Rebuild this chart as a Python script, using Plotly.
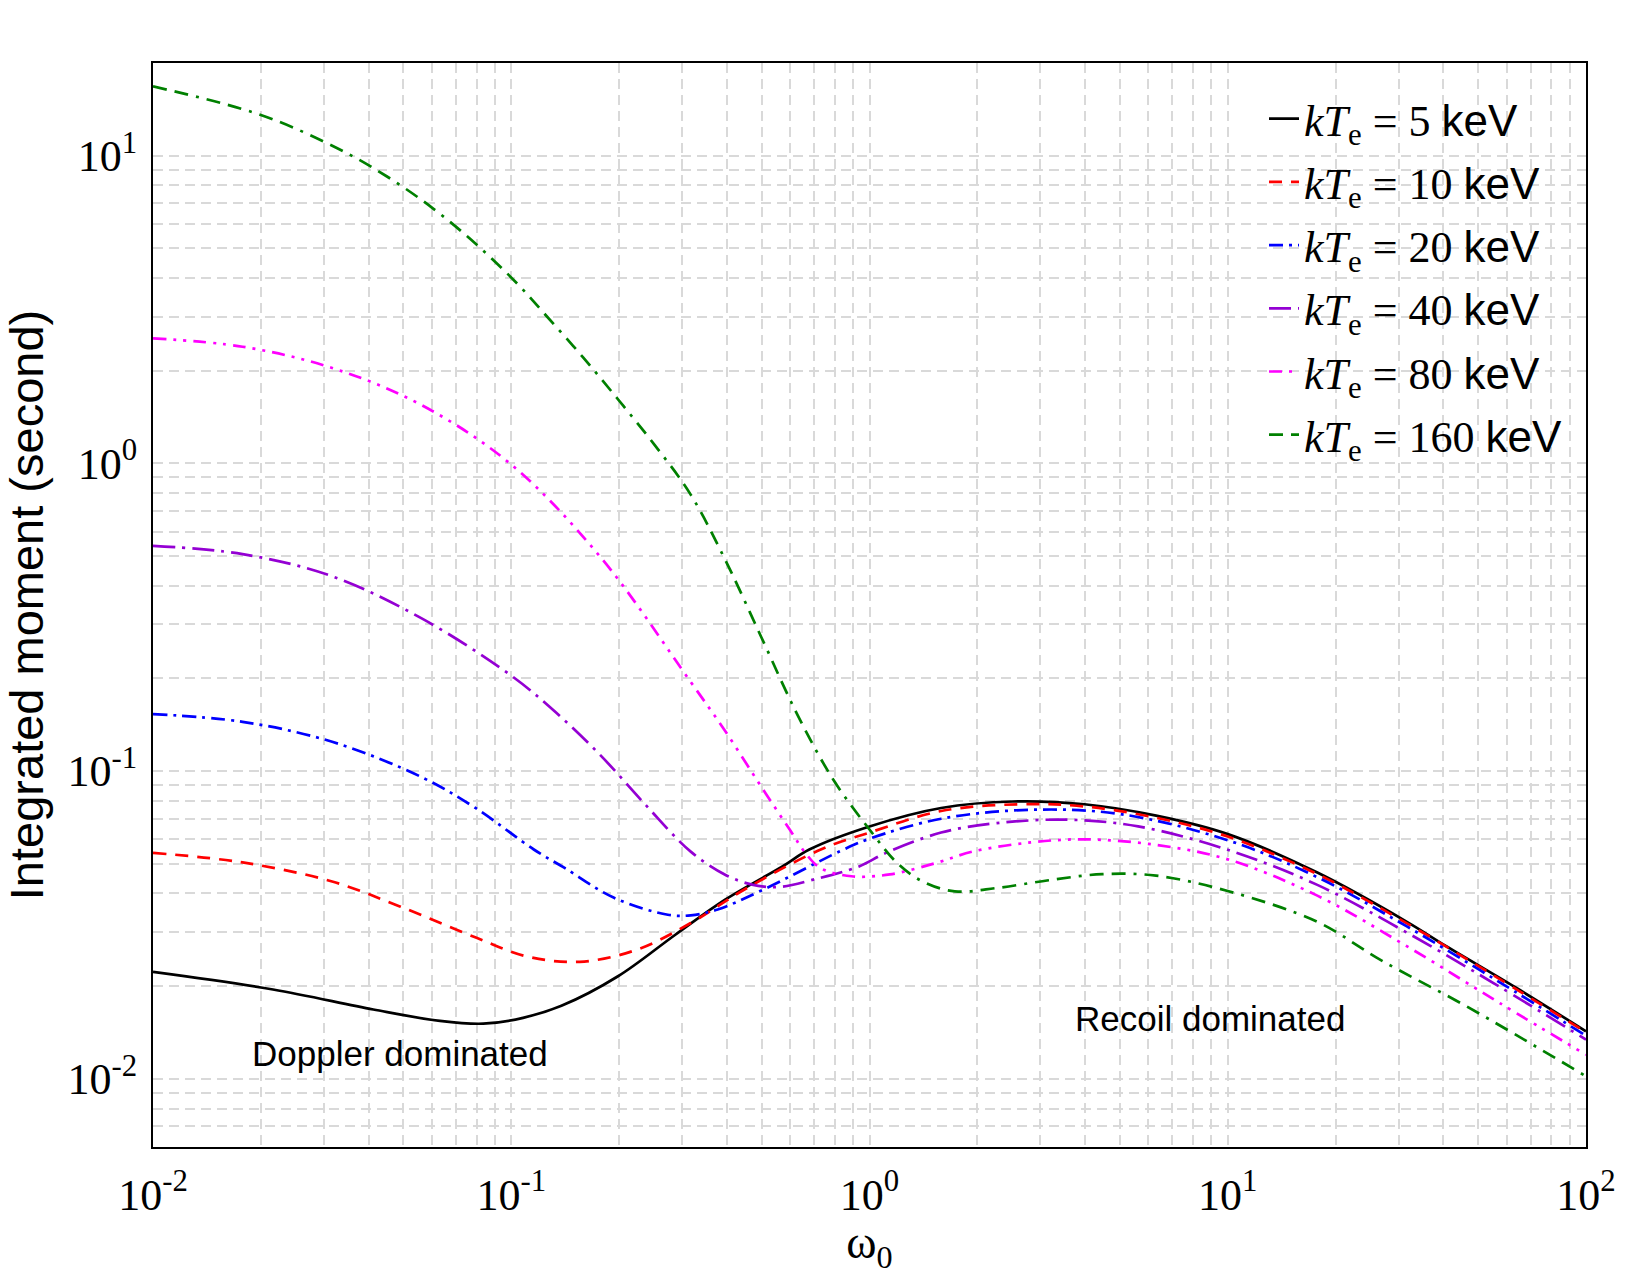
import numpy as np
import plotly.graph_objects as go

# log10(omega_0) / log10(integrated moment)
lw_5 = [-2.0, -1.665, -1.385, -1.199, -1.078, -0.967, -0.86, -0.702, -0.542, -0.403, -0.243, -0.168, 0.0, 0.2, 0.4, 0.6, 0.8, 1.0, 1.25, 1.5, 1.611, 1.806, 2.0]
lm_5 = [-1.653, -1.71, -1.775, -1.812, -1.821, -1.802, -1.763, -1.667, -1.532, -1.418, -1.31, -1.255, -1.18, -1.12, -1.099, -1.108, -1.145, -1.205, -1.33, -1.49, -1.57, -1.705, -1.846]

lw_10 = [-2.0, -1.75, -1.5, -1.311, -1.097, -0.958, -0.809, -0.648, -0.499, -0.349, -0.136, 0.0, 0.2, 0.42, 0.6, 0.8, 1.0, 1.25, 1.5, 1.75, 2.0]
lm_10 = [-1.266, -1.297, -1.359, -1.44, -1.542, -1.602, -1.62, -1.58, -1.494, -1.385, -1.255, -1.2, -1.13, -1.108, -1.115, -1.152, -1.213, -1.335, -1.495, -1.67, -1.849]

lw_20 = [-2.0, -1.75, -1.5, -1.25, -1.1, -0.937, -0.851, -0.713, -0.563, -0.499, -0.424, -0.296, -0.083, 0.0, 0.2, 0.45, 0.7, 1.0, 1.25, 1.5, 1.75, 2.0]
lm_20 = [-0.815, -0.84, -0.905, -1.02, -1.12, -1.255, -1.315, -1.412, -1.467, -1.469, -1.45, -1.385, -1.261, -1.22, -1.155, -1.126, -1.14, -1.225, -1.345, -1.505, -1.68, -1.86]

lw_40 = [-2.0, -1.75, -1.5, -1.25, -1.0, -0.875, -0.75, -0.625, -0.499, -0.403, -0.328, -0.253, -0.157, -0.029, 0.046, 0.2, 0.35, 0.55, 0.75, 1.0, 1.25, 1.5, 1.75, 2.0]
lm_40 = [-0.268, -0.295, -0.367, -0.504, -0.69, -0.81, -0.95, -1.11, -1.262, -1.337, -1.369, -1.377, -1.353, -1.31, -1.266, -1.2, -1.17, -1.158, -1.18, -1.256, -1.37, -1.525, -1.695, -1.873]

lw_80 = [-2.0, -1.75, -1.5, -1.25, -1.0, -0.75, -0.5, -0.4, -0.3, -0.22, -0.178, -0.136, -0.05, 0.057, 0.185, 0.291, 0.45, 0.6, 0.8, 1.0, 1.25, 1.508, 1.759, 2.0]
lm_80 = [0.406, 0.379, 0.31, 0.189, -0.004, -0.306, -0.709, -0.875, -1.055, -1.195, -1.268, -1.316, -1.342, -1.336, -1.299, -1.261, -1.232, -1.222, -1.24, -1.287, -1.405, -1.575, -1.754, -1.922]

lw_160 = [-2.0, -1.701, -1.487, -1.348, -1.218, -1.097, -0.985, -0.901, -0.8, -0.7, -0.6, -0.5, -0.4, -0.3, -0.2, -0.1, 0.0, 0.078, 0.15, 0.238, 0.356, 0.5, 0.65, 0.8, 1.0, 1.25, 1.425, 1.667, 2.0]
lm_160 = [1.225, 1.133, 1.025, 0.933, 0.828, 0.711, 0.586, 0.478, 0.345, 0.205, 0.06, -0.1, -0.32, -0.57, -0.82, -1.03, -1.19, -1.3, -1.36, -1.391, -1.38, -1.355, -1.335, -1.34, -1.39, -1.49, -1.613, -1.765, -1.992]

temps = ["5", "10", "20", "40", "80", "160"]
colors = ["#000000", "#ff0000", "#0000ff", "#9400d3", "#ff00ff", "#008000"]
dashes = ["solid", "13px,9px", "14px,6px,3px,6px", "22px,7px,3px,7px",
          "13px,7px,3px,7px,3px,7px", "14px,8px,14px,8px,3px,8px"]
xs = [lw_5, lw_10, lw_20, lw_40, lw_80, lw_160]
ys = [lm_5, lm_10, lm_20, lm_40, lm_80, lm_160]

x_major = [0.01, 0.1, 1, 10, 100]
x_major_text = ["10<sup>-2</sup>", "10<sup>-1</sup>", "10<sup>0</sup>", "10<sup>1</sup>", "10<sup>2</sup>"]
y_major = [0.01, 0.1, 1, 10]
y_major_text = ["10<sup>-2</sup>", "10<sup>-1</sup>", "10<sup>0</sup>", "10<sup>1</sup>"]
x_minor = [m * d for d in [0.01, 0.1, 1, 10] for m in range(2, 10)]
y_minor = [m * d for d in [0.001, 0.01, 0.1, 1, 10] for m in range(2, 10)]
y_minor = [v for v in y_minor if 0.006 <= v <= 20]

fig = go.Figure()
for i, (t, lx, ly, c, d) in enumerate(zip(temps, xs, ys, colors, dashes)):
    fig.add_trace(go.Scatter(
        x=np.power(10.0, lx), y=np.power(10.0, ly), mode="lines",
        line=dict(color=c, width=2.7, dash=d, shape="spline", smoothing=1.0),
        name="<i>kT</i><sub>e</sub> = " + t + " <span style=\"font-family:Liberation Sans,Arial\">keV</span>",
        legendgroup="g" + str(i),
    ))

grid = dict(showgrid=True, gridcolor="#d9d9d9", gridwidth=1.6, griddash="10px,6px")
tickfont = dict(family="Liberation Serif", size=44, color="black")

fig.update_xaxes(
    type="log", range=[-2, 2], showline=True, linecolor="black", linewidth=2.2, mirror=True,
    tickvals=x_major, ticktext=x_major_text, tickfont=tickfont,
    ticks="outside", ticklen=8, tickcolor="rgba(0,0,0,0)", zeroline=False,
    minor=dict(tickvals=x_minor, ticks="", **grid), **grid,
    title=dict(text="ω<sub>0</sub>", font=dict(family="Liberation Serif", size=46, color="black"), standoff=0),
)
fig.update_yaxes(
    type="log", range=[np.log10(0.006), np.log10(20)], showline=True, linecolor="black", linewidth=2.2, mirror=True,
    tickvals=y_major, ticktext=y_major_text, tickfont=tickfont,
    ticks="outside", ticklen=5, tickcolor="rgba(0,0,0,0)", zeroline=False,
    minor=dict(tickvals=y_minor, ticks="", **grid), **grid,
    title=dict(text="Integrated moment (second)", font=dict(family="Liberation Sans", size=47, color="black"), standoff=12),
)

fig.update_layout(
    width=1650, height=1275, margin=dict(l=153, r=64, t=63, b=128),
    plot_bgcolor="white", paper_bgcolor="white",
    showlegend=True,
    legend=dict(x=0.7753, y=0.981, xanchor="left", yanchor="top", bgcolor="rgba(0,0,0,0)",
                font=dict(family="Liberation Serif", size=44, color="black"),
                tracegroupgap=3, itemwidth=30),
    annotations=[
        dict(x=-1.311, y=-1.918, xref="x", yref="y", text="Doppler dominated", showarrow=False,
             font=dict(family="Liberation Sans", size=35, color="black")),
        dict(x=0.95, y=-1.805, xref="x", yref="y", text="Recoil dominated", showarrow=False,
             font=dict(family="Liberation Sans", size=35, color="black")),
    ],
)

fig.write_html("out.html")
